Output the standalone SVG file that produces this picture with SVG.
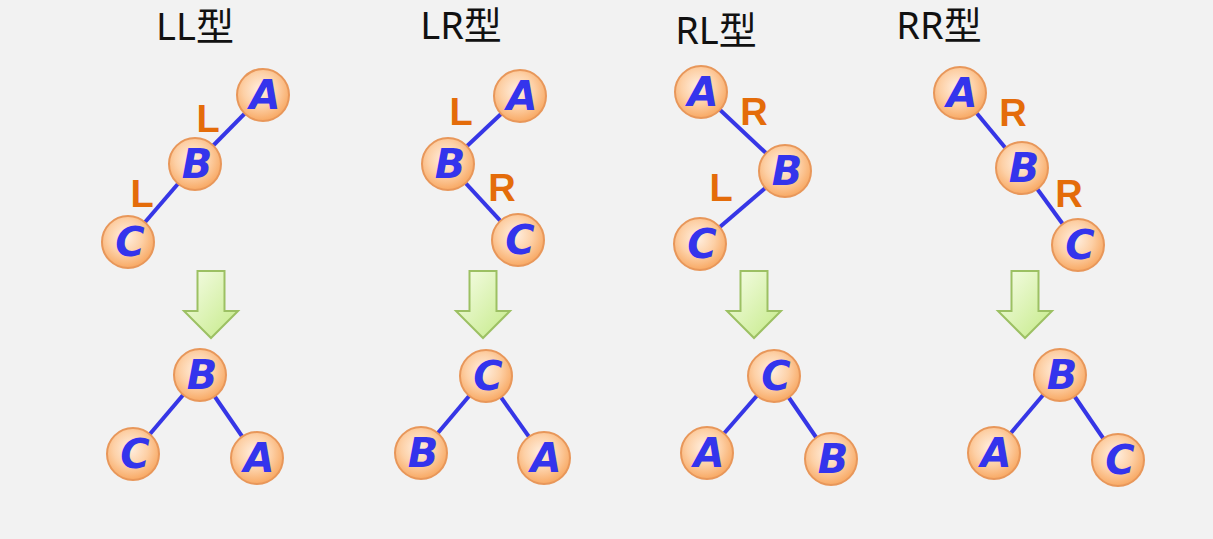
<svg xmlns="http://www.w3.org/2000/svg" width="1213" height="539" viewBox="0 0 1213 539">
<defs>
<radialGradient id="ng" cx="45%" cy="40%" r="60%">
<stop offset="0" stop-color="#fff0e2"/>
<stop offset="0.55" stop-color="#fdd0a6"/>
<stop offset="1" stop-color="#f8a964"/>
</radialGradient>
<linearGradient id="ag" x1="0" y1="0" x2="1" y2="1">
<stop offset="0" stop-color="#f7fde9"/>
<stop offset="1" stop-color="#c4ea86"/>
</linearGradient>
<style>
.n{fill:url(#ng);stroke:#e8975a;stroke-width:2}
.t{font-family:"DejaVu Sans",Verdana,sans-serif;font-weight:bold;font-style:italic;font-size:40px;fill:#3434ec;text-anchor:middle}
.e{stroke:#3636e6;stroke-width:4;fill:none}
.lb{font-family:"Liberation Sans",Arial,sans-serif;font-weight:bold;font-size:38px;fill:#e46c0a;text-anchor:middle}
.ti{font-family:"Noto Sans","Noto Sans CJK SC",sans-serif;font-size:38px;fill:#111;text-anchor:middle}
.ar{fill:url(#ag);stroke:#9cc063;stroke-width:2;stroke-linejoin:miter}
</style>
</defs>
<rect width="1213" height="539" fill="#f2f2f2"/>
<g id="titles">
<text class="ti" x="195" y="40">LL型</text>
<text class="ti" x="461" y="39">LR型</text>
<text class="ti" x="716" y="44">RL型</text>
<text class="ti" x="939" y="39">RR型</text>
</g>
<g id="connectors">
<line class="e" x1="263" y1="95" x2="195" y2="164"/>
<line class="e" x1="195" y1="164" x2="128" y2="242"/>
<line class="e" x1="200" y1="375" x2="133" y2="454"/>
<line class="e" x1="200" y1="375" x2="257" y2="458"/>
<line class="e" x1="520" y1="96" x2="448" y2="164"/>
<line class="e" x1="448" y1="164" x2="518" y2="240"/>
<line class="e" x1="486" y1="376" x2="421" y2="453"/>
<line class="e" x1="486" y1="376" x2="544" y2="458"/>
<line class="e" x1="701" y1="92" x2="785" y2="171"/>
<line class="e" x1="785" y1="171" x2="700" y2="244"/>
<line class="e" x1="774" y1="376" x2="707" y2="453"/>
<line class="e" x1="774" y1="376" x2="831" y2="459"/>
<line class="e" x1="960" y1="93" x2="1022" y2="168"/>
<line class="e" x1="1022" y1="168" x2="1078" y2="245"/>
<line class="e" x1="1060" y1="375" x2="994" y2="453"/>
<line class="e" x1="1060" y1="375" x2="1118" y2="460"/>
</g>
<g id="edge-labels">
<text class="lb" x="208" y="132">L</text>
<text class="lb" x="142" y="207">L</text>
<text class="lb" x="461" y="125">L</text>
<text class="lb" x="502" y="201">R</text>
<text class="lb" x="754" y="125">R</text>
<text class="lb" x="721" y="201">L</text>
<text class="lb" x="1013" y="126">R</text>
<text class="lb" x="1069" y="207">R</text>
</g>
<g id="arrows">
<polygon class="ar" points="197.5,271 224.5,271 224.5,311 238,311 211,338 184,311 197.5,311"/>
<polygon class="ar" points="469.5,271 496.5,271 496.5,311 510,311 483,338 456,311 469.5,311"/>
<polygon class="ar" points="740.5,271 767.5,271 767.5,311 781,311 754,338 727,311 740.5,311"/>
<polygon class="ar" points="1011.5,271 1038.5,271 1038.5,311 1052,311 1025,338 998,311 1011.5,311"/>
</g>
<g id="ll-A"><circle class="n" cx="263" cy="95" r="26"/><text class="t" x="265" y="109">A</text></g>
<g id="ll-B"><circle class="n" cx="195" cy="164" r="26"/><text class="t" x="197" y="178">B</text></g>
<g id="ll-C"><circle class="n" cx="128" cy="242" r="26"/><text class="t" x="130" y="256">C</text></g>
<g id="ll2-B"><circle class="n" cx="200" cy="375" r="26"/><text class="t" x="202" y="389">B</text></g>
<g id="ll2-C"><circle class="n" cx="133" cy="454" r="26"/><text class="t" x="135" y="468">C</text></g>
<g id="ll2-A"><circle class="n" cx="257" cy="458" r="26"/><text class="t" x="259" y="472">A</text></g>
<g id="lr-A"><circle class="n" cx="520" cy="96" r="26"/><text class="t" x="522" y="110">A</text></g>
<g id="lr-B"><circle class="n" cx="448" cy="164" r="26"/><text class="t" x="450" y="178">B</text></g>
<g id="lr-C"><circle class="n" cx="518" cy="240" r="26"/><text class="t" x="520" y="254">C</text></g>
<g id="lr2-C"><circle class="n" cx="486" cy="376" r="26"/><text class="t" x="488" y="390">C</text></g>
<g id="lr2-B"><circle class="n" cx="421" cy="453" r="26"/><text class="t" x="423" y="467">B</text></g>
<g id="lr2-A"><circle class="n" cx="544" cy="458" r="26"/><text class="t" x="546" y="472">A</text></g>
<g id="rl-A"><circle class="n" cx="701" cy="92" r="26"/><text class="t" x="703" y="106">A</text></g>
<g id="rl-B"><circle class="n" cx="785" cy="171" r="26"/><text class="t" x="787" y="185">B</text></g>
<g id="rl-C"><circle class="n" cx="700" cy="244" r="26"/><text class="t" x="702" y="258">C</text></g>
<g id="rl2-C"><circle class="n" cx="774" cy="376" r="26"/><text class="t" x="776" y="390">C</text></g>
<g id="rl2-A"><circle class="n" cx="707" cy="453" r="26"/><text class="t" x="709" y="467">A</text></g>
<g id="rl2-B"><circle class="n" cx="831" cy="459" r="26"/><text class="t" x="833" y="473">B</text></g>
<g id="rr-A"><circle class="n" cx="960" cy="93" r="26"/><text class="t" x="962" y="107">A</text></g>
<g id="rr-B"><circle class="n" cx="1022" cy="168" r="26"/><text class="t" x="1024" y="182">B</text></g>
<g id="rr-C"><circle class="n" cx="1078" cy="245" r="26"/><text class="t" x="1080" y="259">C</text></g>
<g id="rr2-B"><circle class="n" cx="1060" cy="375" r="26"/><text class="t" x="1062" y="389">B</text></g>
<g id="rr2-A"><circle class="n" cx="994" cy="453" r="26"/><text class="t" x="996" y="467">A</text></g>
<g id="rr2-C"><circle class="n" cx="1118" cy="460" r="26"/><text class="t" x="1120" y="474">C</text></g>
</svg>
